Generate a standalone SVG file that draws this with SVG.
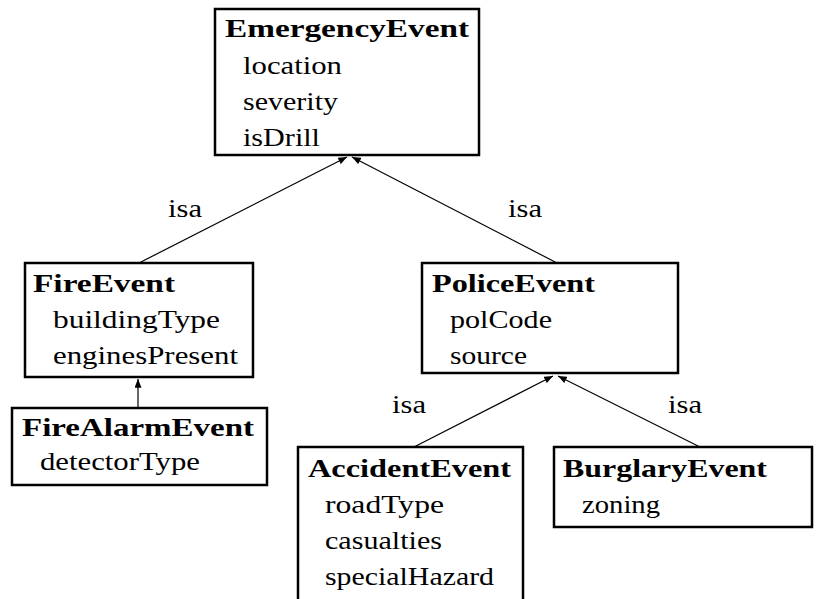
<svg xmlns="http://www.w3.org/2000/svg" width="828" height="599" viewBox="0 0 828 599">
  <style>
    .box { fill: #ffffff; stroke: #000000; stroke-width: 2.5; }
    .title { font-family: "Liberation Serif", "Times New Roman", serif; font-weight: bold; font-size: 25px; fill: #000000; }
    .attr { font-family: "Liberation Serif", "Times New Roman", serif; font-size: 26px; fill: #000000; }
    .lbl { font-family: "Liberation Serif", "Times New Roman", serif; font-size: 26px; fill: #000000; }
    .edge { fill: none; stroke: #000000; stroke-width: 1.2; marker-end: url(#head); }
  </style>
  <defs>
    <marker id="head" viewBox="0 0 10 8" refX="10" refY="4" markerWidth="9" markerHeight="7" markerUnits="userSpaceOnUse" orient="auto">
      <path d="M0,0 L10,4 L0,8 Z" fill="#000000"/>
    </marker>
  </defs>

  <!-- inheritance connectors -->
  <g id="connectors">
    <line class="edge" x1="139" y1="263" x2="347" y2="157"/>
    <line class="edge" x1="557" y1="263" x2="352" y2="157"/>
    <line class="edge" x1="138" y1="408" x2="138" y2="379"/>
    <line class="edge" x1="414" y1="447" x2="553" y2="376"/>
    <line class="edge" x1="700" y1="447" x2="558" y2="376"/>
    <text class="lbl" x="168" y="217" textLength="34" lengthAdjust="spacingAndGlyphs">isa</text>
    <text class="lbl" x="508" y="217" textLength="34" lengthAdjust="spacingAndGlyphs">isa</text>
    <text class="lbl" x="392" y="413" textLength="34" lengthAdjust="spacingAndGlyphs">isa</text>
    <text class="lbl" x="668" y="413" textLength="34" lengthAdjust="spacingAndGlyphs">isa</text>
  </g>

  <g id="EmergencyEvent">
    <rect class="box" x="215" y="9" width="264" height="146"/>
    <text class="title" x="225" y="37" textLength="244" lengthAdjust="spacingAndGlyphs">EmergencyEvent</text>
    <text class="attr" x="243" y="74" textLength="99" lengthAdjust="spacingAndGlyphs">location</text>
    <text class="attr" x="243" y="110" textLength="95" lengthAdjust="spacingAndGlyphs">severity</text>
    <text class="attr" x="243" y="146" textLength="77" lengthAdjust="spacingAndGlyphs">isDrill</text>
  </g>

  <g id="FireEvent">
    <rect class="box" x="25" y="263" width="228" height="114"/>
    <text class="title" x="33" y="292" textLength="142" lengthAdjust="spacingAndGlyphs">FireEvent</text>
    <text class="attr" x="53" y="328" textLength="167" lengthAdjust="spacingAndGlyphs">buildingType</text>
    <text class="attr" x="53" y="364" textLength="185" lengthAdjust="spacingAndGlyphs">enginesPresent</text>
  </g>

  <g id="FireAlarmEvent">
    <rect class="box" x="12" y="408" width="255" height="77"/>
    <text class="title" x="22" y="436" textLength="232" lengthAdjust="spacingAndGlyphs">FireAlarmEvent</text>
    <text class="attr" x="40" y="470" textLength="160" lengthAdjust="spacingAndGlyphs">detectorType</text>
  </g>

  <g id="PoliceEvent">
    <rect class="box" x="422" y="263" width="256" height="110"/>
    <text class="title" x="432" y="292" textLength="163" lengthAdjust="spacingAndGlyphs">PoliceEvent</text>
    <text class="attr" x="450" y="328" textLength="102" lengthAdjust="spacingAndGlyphs">polCode</text>
    <text class="attr" x="450" y="364" textLength="77" lengthAdjust="spacingAndGlyphs">source</text>
  </g>

  <g id="AccidentEvent">
    <rect class="box" x="298" y="447" width="225" height="175"/>
    <text class="title" x="308" y="477" textLength="203" lengthAdjust="spacingAndGlyphs">AccidentEvent</text>
    <text class="attr" x="325" y="513" textLength="119" lengthAdjust="spacingAndGlyphs">roadType</text>
    <text class="attr" x="325" y="549" textLength="117" lengthAdjust="spacingAndGlyphs">casualties</text>
    <text class="attr" x="325" y="585" textLength="169" lengthAdjust="spacingAndGlyphs">specialHazard</text>
  </g>

  <g id="BurglaryEvent">
    <rect class="box" x="554" y="447" width="258" height="80"/>
    <text class="title" x="563" y="477" textLength="204" lengthAdjust="spacingAndGlyphs">BurglaryEvent</text>
    <text class="attr" x="582" y="513" textLength="78" lengthAdjust="spacingAndGlyphs">zoning</text>
  </g>
</svg>
